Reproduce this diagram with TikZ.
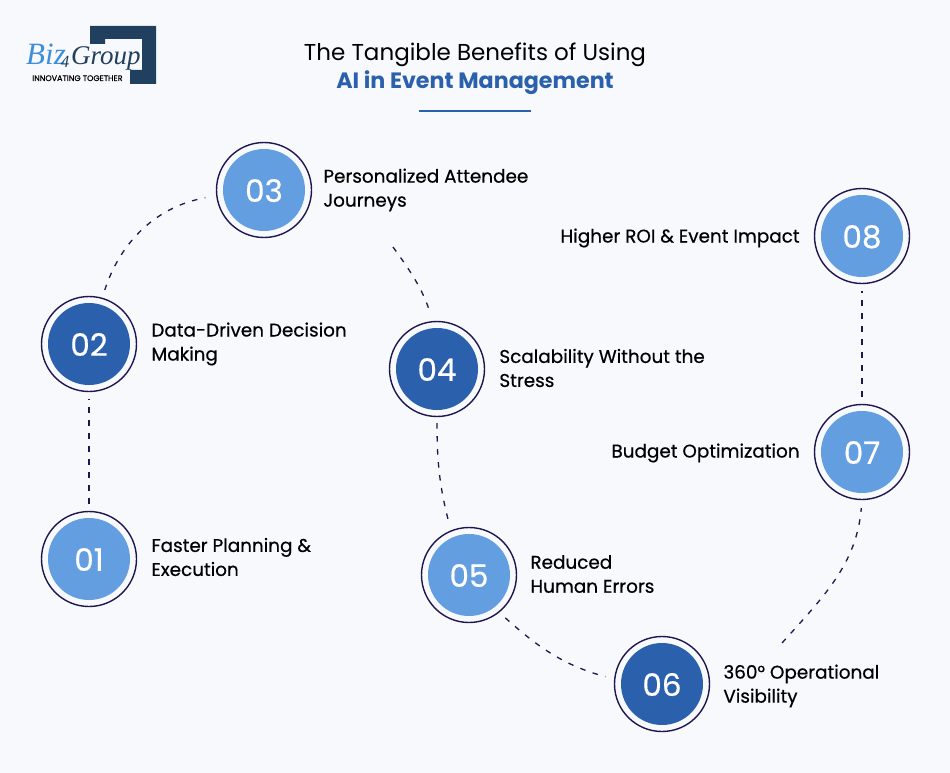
\documentclass[tikz,border=0pt]{standalone}
\usepackage{fontspec}
\setmainfont{Poppins}
\newfontfamily\medfont[FakeBold=0.5]{Poppins}
\newfontfamily\logofont{Liberation Serif}
\usetikzlibrary{positioning}
\definecolor{pagebg}{HTML}{F8F9FC}
\definecolor{lightblue}{HTML}{629EE0}
\definecolor{darkblue}{HTML}{2A60AC}
\definecolor{ringnavy}{HTML}{1D1650}
\definecolor{logonavy}{HTML}{213F5F}
\definecolor{logoblue}{HTML}{3D8FDD}
\tikzset{
	ring/.style={circle, draw=ringnavy, line width=1.4pt, fill=pagebg, inner sep=0pt, minimum size=95pt},
	disc/.style={circle, inner sep=0pt, minimum size=82pt, text=white, font=\medfont\fontsize{31}{31}\selectfont},
	benefit/.style={align=left, inner sep=0pt, text=black, font=\medfont\fontsize{18.4}{24}\selectfont},
	link/.style={ringnavy, line width=1.3pt, dash pattern=on 5.5pt off 7.5pt}
}
\begin{document}
\begin{tikzpicture}[x=1pt,y=-1pt]
	\fill[pagebg] (0,0) rectangle (950,773);
	\useasboundingbox (0,0) rectangle (950,773);

	% logo
	\fill[logonavy] (90,26)--(156,26)--(156,84)--(130,84)--(130,70)--(142,70)--(142,39)--(105,39)--(105,44)--(90,44)--cycle;
	\node[anchor=base west, inner sep=0pt, text=logoblue, font=\logofont\itshape\fontsize{31}{31}\selectfont] (biz) at (26,65) {Biz};
	\node[anchor=base west, inner sep=0pt, text=logonavy, font=\logofont\itshape\fontsize{27}{27}\selectfont] (group) at (71,65) {Group};
	\node[anchor=base, inner sep=0pt, text=logonavy, font=\logofont\itshape\fontsize{17}{17}\selectfont] (four) at (65,68) {4};
	\node[anchor=base west, inner sep=0pt, text=black, font=\medfont\fontsize{8}{8}\selectfont] (tagline) at (32,81) {INNOVATING TOGETHER};

	% title
	\node[text=black, font=\fontsize{23}{23}\selectfont] (title) at (475,55) {The Tangible Benefits of Using};
	\node[text=darkblue, font=\fontsize{22.2}{23}\selectfont\bfseries] (subtitle) at (475,83) {AI in Event Management};
	\coordinate (ruleL) at (419,111);
	\coordinate (ruleR) at (531,111);
	\draw[darkblue, line width=1.5pt] (ruleL)--(ruleR);

	% circles
	\foreach \num/\x/\y/\col in {01/89/559/lightblue, 02/89/344/darkblue, 03/264/190/lightblue, 04/437/369/darkblue, 05/469/575/lightblue, 06/662/684/darkblue, 07/862/452/lightblue, 08/862/236/lightblue}{
		\node[ring] (n\num) at (\x,\y) {};
		\node[disc, fill=\col, text depth=0pt, yshift=0pt] (d\num) at (n\num) {\raisebox{-1pt}{\num}};
	}

	% labels
	\node[benefit, right=14pt of n01, yshift=2pt] (t01) {Faster Planning \&\\Execution};
	\node[benefit, right=14pt of n02, yshift=0pt] (t02) {Data-Driven Decision\\Making};
	\node[benefit, right=11pt of n03, yshift=0pt] (t03) {Personalized Attendee\\Journeys};
	\node[benefit, right=14pt of n04, yshift=1pt] (t04) {Scalability Without the\\Stress};
	\node[benefit, right=13pt of n05, yshift=1pt] (t05) {Reduced\\Human Errors};
	\node[benefit, right=13pt of n06, yshift=-2pt] (t06) {360° Operational\\Visibility};
	\node[benefit, left=14pt of n07, yshift=-1pt] (t07) {Budget Optimization};
	\node[benefit, left=14pt of n08, yshift=-2pt] (t08) {Higher ROI \& Event Impact};

	% connectors
	\coordinate (c34) at (393,247);
	\coordinate (c67) at (782,643);
	\draw[link, shorten <=7pt, shorten >=7pt] (n01.north)--(n02.south);
	\draw[link, shorten <=8pt, shorten >=11pt] (n02.74) to[out=72, in=190] (n03.187);
	\draw[link, shorten >=9pt] (c34) to[out=-54, in=108] (n04.95);
	\draw[link, shorten <=6pt, shorten >=5pt] (n04.south) to[out=-90, in=105] (n05.112);
	\draw[link, shorten <=8pt, shorten >=9pt] (n05.-51) to[out=-42, in=165] (n06.174);
	\draw[link, shorten >=8pt] (c67) to[out=48, in=-95] (n07.-90);
	\draw[link, shorten <=7pt, shorten >=7pt] (n07.north)--(n08.south);
\end{tikzpicture}
\end{document}
